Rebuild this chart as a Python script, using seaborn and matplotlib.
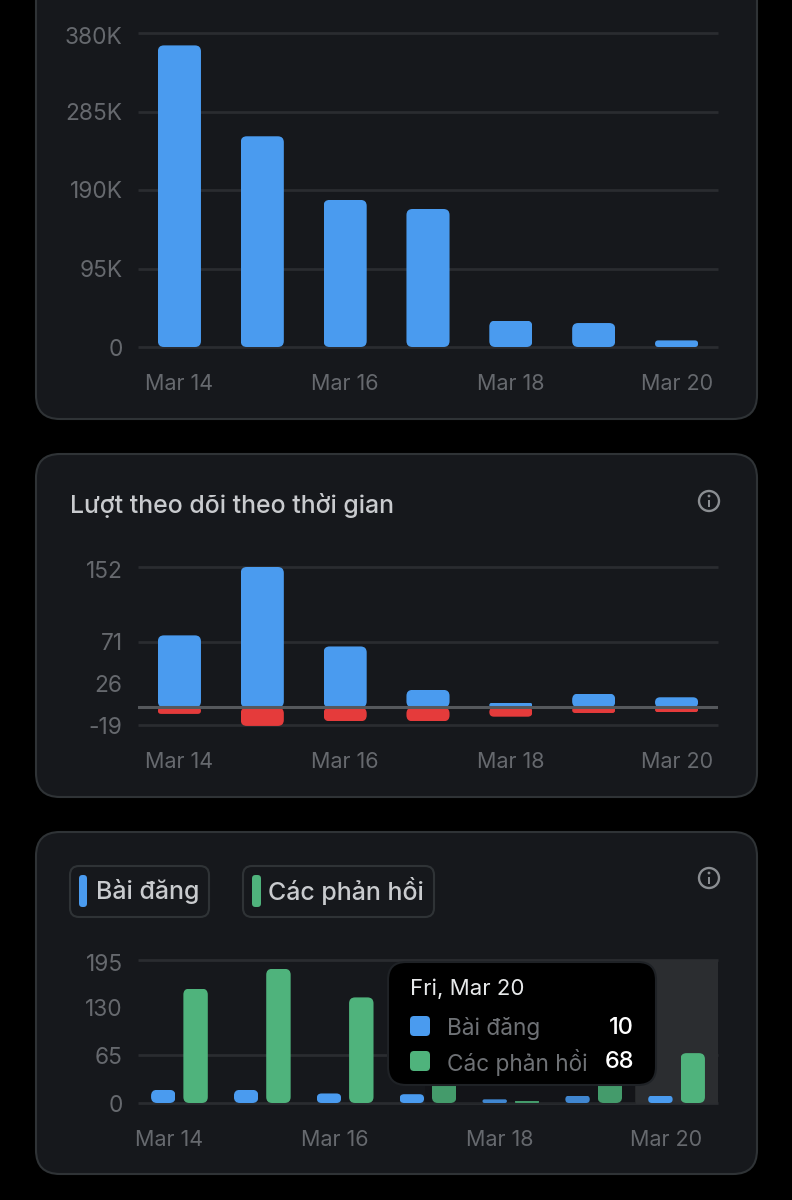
import numpy as np
import pandas as pd
import matplotlib
matplotlib.use("Agg")
import matplotlib.pyplot as plt
from matplotlib.patches import FancyBboxPatch, Circle, Rectangle
from matplotlib.transforms import ScaledTranslation
import seaborn as sns

# data
days = ["Mar 14", "Mar 15", "Mar 16", "Mar 17", "Mar 18", "Mar 19", "Mar 20"]
x_labels = ["Mar 14", "Mar 16", "Mar 18", "Mar 20"]
x_label_pos = [0, 2, 4, 6]

impressions = [365, 255, 178, 167, 32, 29, 8]  # thousands
impr_ticks = [0, 95, 190, 285, 380]
impr_labels = ["0", "95K", "190K", "285K", "380K"]

follows = [78, 152, 66, 19, 5, 15, 11]
unfollows = [-7, -20, -15, -15, -10, -6, -5]
follow_ticks = [-19, 26, 71, 152]

posts = [18, 18, 13, 12, 5, 10, 10]
replies = [156, 183, 144, 60, 3, 50, 68]
post_ticks = [0, 65, 130, 195]

BLUE = "#4a9bef"
RED = "#e53b3b"
GREEN = "#4fb37c"
CARD = "#16181c"
EDGE = "#2f3336"
GRID = "#2a2c30"
TICK = "#66696e"
TEXT = "#c9cbce"
W, H = 792, 1200

sns.set_theme(style="dark")
plt.rcParams["font.family"] = ["Inter", "DejaVu Sans"]

fig = plt.figure(figsize=(W / 100, H / 100), dpi=100, facecolor="black")


def pixel_axes(left, top, right, bottom, zorder):
    ax = fig.add_axes([left / W, 1 - bottom / H, (right - left) / W, (bottom - top) / H], zorder=zorder)
    ax.patch.set_alpha(0)
    return ax


# layer for the cards, in screen pixels
back = pixel_axes(0, 0, W, H, 0)
back.set_xlim(0, W)
back.set_ylim(H, 0)
back.axis("off")


def box(ax, x0, y0, x1, y1, r, face, edge=None, lw=1.5, alpha=None):
    ax.add_patch(FancyBboxPatch((x0 + r, y0 + r), x1 - x0 - 2 * r, y1 - y0 - 2 * r,
                                boxstyle="round,pad=%f,rounding_size=%f" % (r, r),
                                fc=face, ec=edge if edge else "none", lw=lw, alpha=alpha))


box(back, 36, -60, 757, 419, 24, CARD, EDGE)
box(back, 36, 454, 757, 797, 24, CARD, EDGE)
box(back, 36, 832, 757, 1174, 24, CARD, EDGE)


def info_icon(cx, cy):
    back.add_patch(Circle((cx, cy), 10, fc="none", ec="#8b8e92", lw=1.7))
    back.add_patch(Rectangle((cx - 1, cy - 1.5), 2, 7.5, fc="#8b8e92", ec="none"))
    back.add_patch(Circle((cx, cy - 5), 1.4, fc="#8b8e92", ec="none"))


info_icon(709, 501)
info_icon(709, 878)

back.text(70, 505, "Lượt theo dõi theo thời gian", color=TEXT, fontsize=17.9, fontweight="medium",
          va="center", ha="left")

# legend chips of the last card
box(back, 70, 866, 209, 917, 9, CARD, EDGE)
box(back, 243, 866, 434, 917, 9, CARD, EDGE)
box(back, 79, 875, 87, 907, 3.5, BLUE)
box(back, 252, 875, 261, 907, 3.5, GREEN)
back.text(96, 891, "Bài đăng", color=TEXT, fontsize=18, fontweight="medium", va="center", ha="left")
back.text(268, 891, "Các phản hồi", color=TEXT, fontsize=18, fontweight="medium", va="center", ha="left")


def round_bars(ax, radius_px=6):
    # seaborn bars are square, clip them to a rounded outline
    fig.canvas.draw()
    bb = ax.get_window_extent()
    x0, x1 = ax.get_xlim()
    y0, y1 = ax.get_ylim()
    px_x = (x1 - x0) / bb.width
    px_y = (y1 - y0) / bb.height
    for bar in ax.patches:
        w = bar.get_width()
        h = bar.get_height()
        bx = bar.get_x()
        by = min(bar.get_y(), bar.get_y() + h)
        h = abs(h)
        if h == 0:
            continue
        r = min(radius_px * px_x, 0.5 * w, 0.5 * h / px_y * px_x)
        ry = r * px_y / px_x
        clip = FancyBboxPatch((bx + r, by + ry), w - 2 * r, h - 2 * ry,
                              boxstyle="round,pad=%f,rounding_size=%f" % (r, r),
                              mutation_aspect=px_y / px_x, transform=ax.transData)
        bar.set_clip_path(clip)
        bar.set_clip_box(None)
        bar.set_linewidth(0)


def style_axes(ax, yticks, ylabels, xoffset=0.0, no_grid=()):
    ax.set_xlim(-0.5, 6.5)
    ax.set_xticks([p + xoffset for p in x_label_pos], x_labels)
    ax.set_yticks(yticks, ylabels)
    ax.set_xlabel("")
    ax.set_ylabel("")
    ax.tick_params(axis="x", length=0, pad=19.5, labelsize=15.5, labelcolor=TICK)
    ax.tick_params(axis="y", length=0, pad=11, labelsize=16.3, labelcolor=TICK)
    sns.despine(ax=ax, left=True, bottom=True)
    ax.set_axisbelow(True)
    ax.grid(axis="y", color=GRID, lw=2, solid_capstyle="butt")
    ax.grid(axis="x", visible=False)
    for tick, line in zip(yticks, ax.get_ygridlines()):
        line.set_clip_on(False)
        if tick in no_grid:
            line.set_visible(False)
    # the topmost label sits a bit under its line
    lab = ax.get_yticklabels()[-1]
    lab.set_transform(lab.get_transform() + ScaledTranslation(0, -2.5 / 100, fig.dpi_scale_trans))


# impressions card
ax1 = pixel_axes(138, 33, 718, 347, 1)
sns.barplot(x=days, y=impressions, color=BLUE, saturation=1, width=0.52, ax=ax1)
ax1.set_ylim(0, 380)
style_axes(ax1, impr_ticks, impr_labels)
round_bars(ax1)

# follows card
ax2 = pixel_axes(138, 567, 718, 725, 1)
sns.barplot(x=days, y=follows, color=BLUE, saturation=1, width=0.52, ax=ax2)
sns.barplot(x=days, y=unfollows, color=RED, saturation=1, width=0.52, ax=ax2)
ax2.set_ylim(-19, 152)
style_axes(ax2, follow_ticks, [str(t) for t in follow_ticks], no_grid=(26,))
round_bars(ax2)
ax2.axhline(0, color="#55585c", lw=2.2, zorder=5)

# posts / replies card
ax3 = pixel_axes(138, 960, 718, 1103, 1)
df = pd.DataFrame({
    "day": days * 2,
    "kind": ["posts"] * 7 + ["replies"] * 7,
    "count": posts + replies,
})
sns.barplot(data=df, x="day", y="count", hue="kind", palette=[BLUE, GREEN], saturation=1,
            width=0.78, gap=0.244, legend=False, ax=ax3)
ax3.set_ylim(0, 195)
style_axes(ax3, post_ticks, [str(t) for t in post_ticks], xoffset=-0.13, no_grid=(130,))
round_bars(ax3)
ax3.axvspan(5.5, 6.5, color="#2b2d30", lw=0, zorder=0.8)

# tooltip on top of the last chart
top = pixel_axes(0, 0, W, H, 3)
top.set_xlim(0, W)
top.set_ylim(H, 0)
top.axis("off")
box(top, 425, 1060, 636, 1104, 1, "black", alpha=0.13)  # shadow under the tooltip
box(top, 388, 962, 656, 1085, 18, "black", "#1f2226", 1.5)
top.text(410, 989, "Fri, Mar 20", color="#e7e9ea", fontsize=16, va="center", ha="left")
box(top, 410, 1016, 430, 1036, 4, BLUE)
box(top, 410, 1051, 430, 1071, 4, GREEN)
top.text(447, 1028, "Bài đăng", color="#6f7276", fontsize=16.3, va="center", ha="left")
top.text(447, 1062, "Các phản hồi", color="#6f7276", fontsize=16.3, va="center", ha="left")
top.text(634, 1028, str(posts[-1]), color="white", fontsize=17, fontweight="medium", va="center", ha="right")
top.text(634, 1062, str(replies[-1]), color="white", fontsize=17, fontweight="medium", va="center", ha="right")

fig.savefig("out.png", dpi=100, facecolor="black")
